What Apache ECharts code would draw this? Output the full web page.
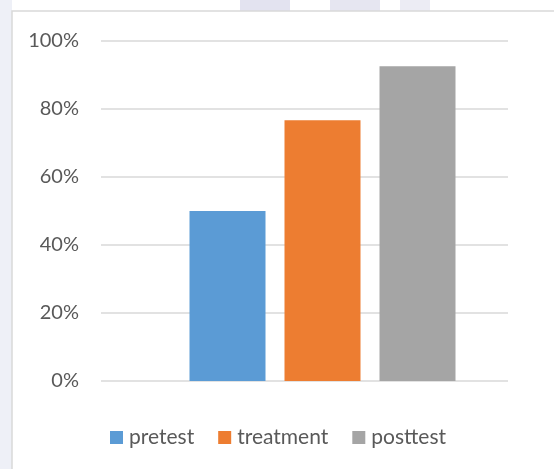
<!DOCTYPE html>
<html>
<head>
<meta charset="utf-8">
<script src="https://cdn.jsdelivr.net/npm/echarts@6/dist/echarts.min.js"></script>
<style>
html,body{margin:0;padding:0;background:#fff;}
#chart{width:554px;height:469px;}
</style>
</head>
<body>
<div id="chart"></div>
<script>
const categories = [''];
const seriesNames = ['pretest', 'treatment', 'posttest'];
const pretest = [0.50];
const treatment = [0.767];
const posttest = [0.926];
const yTicks = [0, 0.2, 0.4, 0.6, 0.8, 1.0];
const colors = ['#5B9BD5', '#ED7D31', '#A5A5A5'];

const chart = echarts.init(document.getElementById('chart'), null, {renderer: 'canvas'});
const values = [pretest, treatment, posttest];
const textStyleBase = {fontFamily: 'Lato', color: '#595959'};

chart.setOption({
  animation: false,
  backgroundColor: '#ffffff',
  textStyle: textStyleBase,
  graphic: [
    {type: 'rect', shape: {x: 0, y: 0, width: 12, height: 469}, style: {fill: '#eef0f7'}, z: -10},
    {type: 'rect', shape: {x: 240, y: 0, width: 50, height: 11}, style: {fill: '#e3e3f0'}, z: -10},
    {type: 'rect', shape: {x: 330, y: 0, width: 50, height: 11}, style: {fill: '#e6e6f1'}, z: -10},
    {type: 'rect', shape: {x: 400, y: 0, width: 30, height: 11}, style: {fill: '#ececf4'}, z: -10},
    {type: 'rect', shape: {x: 12, y: 11, width: 600, height: 500}, style: {fill: 'rgba(255,255,255,0)', stroke: '#d9d9d9', lineWidth: 1.5}, z: -5}
  ],
  legend: {
    bottom: 16,
    left: 105,
    itemWidth: 13,
    itemHeight: 13,
    itemGap: 24,
    icon: 'rect',
    textStyle: {fontFamily: 'Lato', fontSize: 21, color: '#595959', padding: [0, 0, 0, 1]},
    data: seriesNames
  },
  grid: [
    {left: 101, right: 46, top: 41, bottom: 88},
    {left: 137, right: 46, top: 41, bottom: 88}
  ],
  xAxis: [
    {type: 'category', gridIndex: 0, data: categories, axisLine: {show: false}, axisTick: {show: false}, axisLabel: {show: false}},
    {type: 'category', gridIndex: 1, data: categories, axisLine: {show: false}, axisTick: {show: false}, axisLabel: {show: false}}
  ],
  yAxis: [
    {
      type: 'value', gridIndex: 0, min: yTicks[0], max: yTicks[yTicks.length - 1], interval: 0.2,
      axisLine: {show: false}, axisTick: {show: false},
      splitLine: {lineStyle: {color: '#d9d9d9', width: 1.5}},
      axisLabel: {margin: 22, fontFamily: 'Lato', fontSize: 20, color: '#595959',
        formatter: v => Math.round(v * 100) + '%'}
    },
    {
      type: 'value', gridIndex: 1, min: yTicks[0], max: yTicks[yTicks.length - 1], interval: 0.2,
      show: false, splitLine: {show: false}
    }
  ],
  series: seriesNames.map((n, i) => ({
    name: n,
    type: 'bar',
    xAxisIndex: 1,
    yAxisIndex: 1,
    data: values[i],
    barWidth: 76,
    barGap: '25%',
    itemStyle: {color: colors[i]}
  }))
});
</script>
</body>
</html>
